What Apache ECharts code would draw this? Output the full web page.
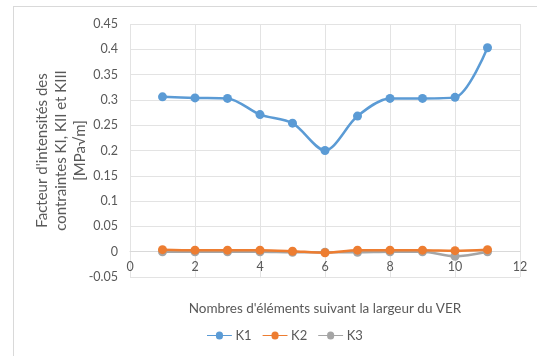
<!DOCTYPE html>
<html>
<head>
<meta charset="utf-8">
<script src="https://cdn.jsdelivr.net/npm/echarts@6/dist/echarts.min.js"></script>
<style>
  html, body { margin: 0; padding: 0; background: #fff; }
  #frame { position: absolute; left: 13px; top: 6px; width: 530px; height: 360px;
           border-left: 1px solid #d9d9d9; border-top: 1px solid #d9d9d9; box-sizing: border-box; }
  #chart { position: absolute; left: 0; top: 0; width: 537px; height: 356px; }
</style>
</head>
<body>
<div id="frame"></div>
<div id="chart"></div>
<script>
// Number of elements across the width of the RVE
const elements = [1, 2, 3, 4, 5, 6, 7, 8, 9, 10, 11];
// Stress intensity factors [MPa√m]
const k1 = [0.306, 0.304, 0.303, 0.271, 0.254, 0.200, 0.268, 0.303, 0.303, 0.305, 0.403];
const k2 = [0.004, 0.003, 0.003, 0.003, 0.001, -0.002, 0.003, 0.003, 0.003, 0.002, 0.004];
const k3 = [0.000, 0.000, 0.000, 0.000, -0.001, -0.001, -0.001, 0.000, 0.000, -0.009, 0.000];
const seriesNames = ['K1', 'K2', 'K3'];
const colors = ['#5b9bd5', '#ed7d31', '#a5a5a5'];

const font = 'Lato, "Open Sans", sans-serif';
const pairs = arr => elements.map((x, i) => [x, arr[i]]);

const chart = echarts.init(document.getElementById('chart'), null, { renderer: 'canvas' });
chart.setOption({
  animation: false,
  color: colors,
  textStyle: { fontFamily: font },
  grid: { left: 130, right: 17, top: 24, bottom: 79, containLabel: false },
  xAxis: {
    type: 'value', min: 0, max: 12, interval: 2,
    name: "Nombres d'éléments suivant la largeur du VER",
    nameLocation: 'middle', nameGap: 25,
    nameTextStyle: { color: '#595959', fontSize: 13.5, fontFamily: font },
    axisLine: { onZero: true, lineStyle: { color: '#d9d9d9', width: 1 } },
    axisTick: { show: false },
    axisLabel: { color: '#595959', fontSize: 12.5, margin: -17, fontFamily: font },
    splitLine: { show: true, lineStyle: { color: '#e3e3e3', width: 1 } }
  },
  yAxis: {
    type: 'value', min: -0.05, max: 0.45, interval: 0.05,
    name: "Facteur d'intensités des\ncontraintes KI, KII et KIII\n[MPa√m]",
    nameLocation: 'middle', nameGap: 40, nameRotate: 90,
    nameMoveOverlap: false,
    nameTextStyle: { color: '#595959', fontSize: 15, lineHeight: 19, fontFamily: font },
    axisLine: { show: false },
    axisTick: { show: false },
    axisLabel: {
      color: '#595959', fontSize: 12.5, margin: 12, fontFamily: font,
      formatter: v => String(parseFloat(v.toFixed(2)))
    },
    splitLine: { show: true, lineStyle: { color: '#e3e3e3', width: 1 } }
  },
  legend: {
    bottom: 9, left: 202,
    itemWidth: 28, itemHeight: 8, itemGap: 11,
    icon: 'path://M0,3.5 L10,3.5 A4,4 0 1 1 18,3.5 L28,3.5 L28,4.5 L18,4.5 A4,4 0 1 1 10,4.5 L0,4.5 Z',
    textStyle: { color: '#595959', fontSize: 13, fontFamily: font, padding: [0, 0, 0, -3] },
    data: seriesNames
  },
  series: [k1, k2, k3].map((arr, i) => ({
    name: seriesNames[i],
    type: 'line',
    smooth: 0.3,
    data: pairs(arr),
    symbol: 'circle',
    symbolSize: 9,
    lineStyle: { width: 2.5, color: colors[i] },
    itemStyle: { color: colors[i] },
    z: 3 - i
  }))
});
</script>
</body>
</html>
